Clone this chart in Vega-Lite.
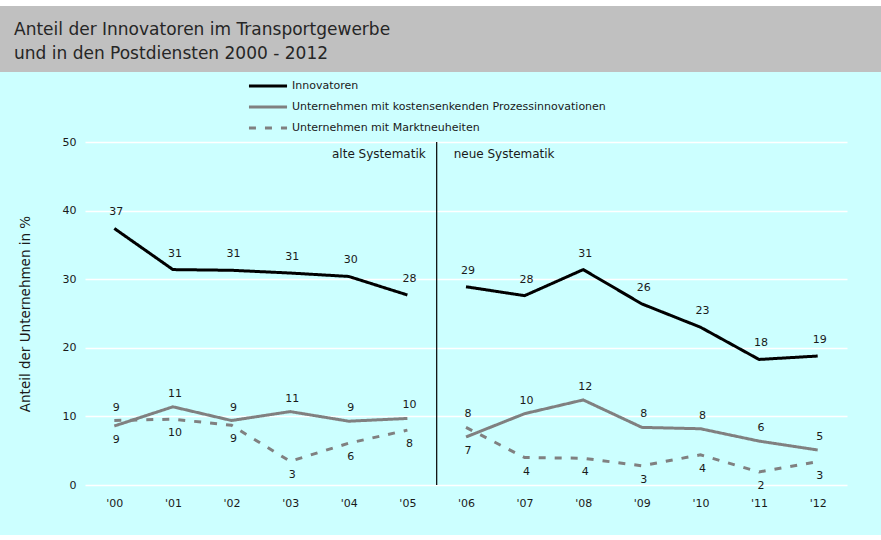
{
  "$schema": "https://vega.github.io/schema/vega-lite/v6.json",
  "background": "#ccffff",
  "padding": 0,
  "spacing": 0,
  "resolve": {"legend": {"color": "independent", "strokeDash": "independent"}},
  "config": {
    "view": {"stroke": null},
    "font": "DejaVu Sans",
    "concat": {"spacing": 0},
    "text": {"font": "DejaVu Sans", "color": "#1a1a1a"}
  },
  "vconcat": [
    {
      "width": 881,
      "height": 6,
      "view": {"fill": "#ffffff", "stroke": null},
      "data": {"values": []},
      "mark": "point",
      "encoding": {}
    },
    {
      "width": 881,
      "height": 66,
      "view": {"fill": "#c0c0c0", "stroke": null},
      "data": {"values": []},
      "mark": "point",
      "encoding": {},
      "title": {
        "text": ["Anteil der Innovatoren im Transportgewerbe", "und in den Postdiensten 2000 - 2012"],
        "anchor": "start",
        "frame": "group",
        "orient": "top",
        "offset": -74,
        "baseline": "bottom",
        "dx": 14,
        "fontSize": 17,
        "font": "DejaVu Sans",
        "fontWeight": "normal",
        "color": "#262626",
        "lineHeight": 24
      }
    },
    {
      "spacing": 0,
      "resolve": {"legend": {"color": "independent", "strokeDash": "independent"}},
      "hconcat": [
        {
          "width": 18,
          "height": 10,
          "data": {"values": []},
          "mark": "point",
          "encoding": {}
        },
        {
          "width": 762,
          "height": 343,
          "data": {
            "values": [
              {"year": 2000, "series": "Innovatoren", "value": 37.4, "period": "alt", "pos": "oben"},
              {"year": 2001, "series": "Innovatoren", "value": 31.4, "period": "alt", "pos": "oben"},
              {"year": 2002, "series": "Innovatoren", "value": 31.3, "period": "alt", "pos": "oben"},
              {"year": 2003, "series": "Innovatoren", "value": 30.9, "period": "alt", "pos": "oben"},
              {"year": 2004, "series": "Innovatoren", "value": 30.4, "period": "alt", "pos": "oben"},
              {"year": 2005, "series": "Innovatoren", "value": 27.7, "period": "alt", "pos": "oben"},
              {"year": 2006, "series": "Innovatoren", "value": 28.9, "period": "neu", "pos": "oben"},
              {"year": 2007, "series": "Innovatoren", "value": 27.6, "period": "neu", "pos": "oben"},
              {"year": 2008, "series": "Innovatoren", "value": 31.4, "period": "neu", "pos": "oben"},
              {"year": 2009, "series": "Innovatoren", "value": 26.4, "period": "neu", "pos": "oben"},
              {"year": 2010, "series": "Innovatoren", "value": 23.0, "period": "neu", "pos": "oben"},
              {"year": 2011, "series": "Innovatoren", "value": 18.3, "period": "neu", "pos": "oben"},
              {"year": 2012, "series": "Innovatoren", "value": 18.8, "period": "neu", "pos": "oben"},
              {"year": 2000, "series": "Unternehmen mit kostensenkenden Prozessinnovationen", "value": 8.6, "period": "alt", "pos": "unten"},
              {"year": 2001, "series": "Unternehmen mit kostensenkenden Prozessinnovationen", "value": 11.4, "period": "alt", "pos": "oben"},
              {"year": 2002, "series": "Unternehmen mit kostensenkenden Prozessinnovationen", "value": 9.4, "period": "alt", "pos": "oben"},
              {"year": 2003, "series": "Unternehmen mit kostensenkenden Prozessinnovationen", "value": 10.7, "period": "alt", "pos": "oben"},
              {"year": 2004, "series": "Unternehmen mit kostensenkenden Prozessinnovationen", "value": 9.3, "period": "alt", "pos": "oben"},
              {"year": 2005, "series": "Unternehmen mit kostensenkenden Prozessinnovationen", "value": 9.7, "period": "alt", "pos": "oben"},
              {"year": 2006, "series": "Unternehmen mit kostensenkenden Prozessinnovationen", "value": 7.0, "period": "neu", "pos": "unten"},
              {"year": 2007, "series": "Unternehmen mit kostensenkenden Prozessinnovationen", "value": 10.4, "period": "neu", "pos": "oben"},
              {"year": 2008, "series": "Unternehmen mit kostensenkenden Prozessinnovationen", "value": 12.4, "period": "neu", "pos": "oben"},
              {"year": 2009, "series": "Unternehmen mit kostensenkenden Prozessinnovationen", "value": 8.4, "period": "neu", "pos": "oben"},
              {"year": 2010, "series": "Unternehmen mit kostensenkenden Prozessinnovationen", "value": 8.2, "period": "neu", "pos": "oben"},
              {"year": 2011, "series": "Unternehmen mit kostensenkenden Prozessinnovationen", "value": 6.4, "period": "neu", "pos": "oben"},
              {"year": 2012, "series": "Unternehmen mit kostensenkenden Prozessinnovationen", "value": 5.1, "period": "neu", "pos": "oben"},
              {"year": 2000, "series": "Unternehmen mit Marktneuheiten", "value": 9.4, "period": "alt", "pos": "oben"},
              {"year": 2001, "series": "Unternehmen mit Marktneuheiten", "value": 9.6, "period": "alt", "pos": "unten"},
              {"year": 2002, "series": "Unternehmen mit Marktneuheiten", "value": 8.7, "period": "alt", "pos": "unten"},
              {"year": 2003, "series": "Unternehmen mit Marktneuheiten", "value": 3.45, "period": "alt", "pos": "unten"},
              {"year": 2004, "series": "Unternehmen mit Marktneuheiten", "value": 6.1, "period": "alt", "pos": "unten"},
              {"year": 2005, "series": "Unternehmen mit Marktneuheiten", "value": 8.0, "period": "alt", "pos": "unten"},
              {"year": 2006, "series": "Unternehmen mit Marktneuheiten", "value": 8.4, "period": "neu", "pos": "oben"},
              {"year": 2007, "series": "Unternehmen mit Marktneuheiten", "value": 4.0, "period": "neu", "pos": "unten"},
              {"year": 2008, "series": "Unternehmen mit Marktneuheiten", "value": 3.9, "period": "neu", "pos": "unten"},
              {"year": 2009, "series": "Unternehmen mit Marktneuheiten", "value": 2.8, "period": "neu", "pos": "unten"},
              {"year": 2010, "series": "Unternehmen mit Marktneuheiten", "value": 4.4, "period": "neu", "pos": "unten"},
              {"year": 2011, "series": "Unternehmen mit Marktneuheiten", "value": 1.9, "period": "neu", "pos": "unten"},
              {"year": 2012, "series": "Unternehmen mit Marktneuheiten", "value": 3.4, "period": "neu", "pos": "unten"}
            ]
          },
          "layer": [
            {
              "data": {"values": [{"year": 2005.5, "lo": 0, "hi": 50}]},
              "mark": {"type": "rule", "color": "#000000", "strokeWidth": 1.2},
              "encoding": {
                "x": {"field": "year", "type": "quantitative"},
                "y": {"field": "lo", "type": "quantitative"},
                "y2": {"field": "hi"}
              }
            },
            {
              "data": {"values": [{"year": 2005.5, "y": 50, "label": "alte Systematik"}]},
              "mark": {"type": "text", "align": "right", "baseline": "middle", "dx": -11, "dy": 12, "fontSize": 12},
              "encoding": {
                "x": {"field": "year", "type": "quantitative"},
                "y": {"field": "y", "type": "quantitative"},
                "text": {"field": "label"}
              }
            },
            {
              "data": {"values": [{"year": 2005.5, "y": 50, "label": "neue Systematik"}]},
              "mark": {"type": "text", "align": "left", "baseline": "middle", "dx": 17, "dy": 12, "fontSize": 12},
              "encoding": {
                "x": {"field": "year", "type": "quantitative"},
                "y": {"field": "y", "type": "quantitative"},
                "text": {"field": "label"}
              }
            },
            {
              "mark": {"type": "line", "strokeWidth": 3},
              "encoding": {
                "x": {
                  "field": "year", "type": "quantitative",
                  "scale": {"domain": [1999.5, 2012.5], "nice": false, "zero": false},
                  "axis": {
                    "title": null, "grid": false, "domain": false, "ticks": false,
                    "values": [2000, 2001, 2002, 2003, 2004, 2005, 2006, 2007, 2008, 2009, 2010, 2011, 2012],
                    "format": "d",
                    "labelExpr": "\"'\" + slice(datum.label, 2)",
                    "labelPadding": 12, "labelFontSize": 11, "labelColor": "#1a1a1a", "labelFont": "DejaVu Sans"
                  }
                },
                "y": {
                  "field": "value", "type": "quantitative",
                  "scale": {"domain": [0, 50], "nice": false},
                  "axis": {
                    "title": "Anteil der Unternehmen in %",
                    "titleFontSize": 13.5, "titleFontWeight": "normal", "titleColor": "#1a1a1a", "titleFont": "DejaVu Sans",
                    "titlePadding": 30,
                    "values": [0, 10, 20, 30, 40, 50],
                    "grid": true, "gridColor": "#ffffff", "gridWidth": 1.5,
                    "domain": false, "ticks": false,
                    "labelPadding": 9, "labelFontSize": 11, "labelColor": "#1a1a1a", "labelFont": "DejaVu Sans"
                  }
                },
                "color": {
                  "field": "series", "type": "nominal",
                  "scale": {
                    "domain": ["Innovatoren", "Unternehmen mit kostensenkenden Prozessinnovationen", "Unternehmen mit Marktneuheiten"],
                    "range": ["#000000", "#808080", "#808080"]
                  },
                  "legend": {
                    "orient": "none", "legendX": 156, "legendY": -70, "title": null,
                    "symbolType": "stroke", "symbolSize": 1450, "symbolStrokeWidth": 3,
                    "clipHeight": 16, "rowPadding": 5, "padding": 6,
                    "labelFontSize": 11, "labelOffset": 3, "labelFont": "DejaVu Sans", "labelColor": "#1a1a1a",
                    "labelLimit": 600
                  }
                },
                "strokeDash": {
                  "field": "series", "type": "nominal",
                  "scale": {
                    "domain": ["Innovatoren", "Unternehmen mit kostensenkenden Prozessinnovationen", "Unternehmen mit Marktneuheiten"],
                    "range": [[1, 0], [1, 0], [7, 9]]
                  },
                  "legend": {
                    "orient": "none", "legendX": 156, "legendY": -70, "title": null,
                    "symbolType": "stroke", "symbolSize": 1450, "symbolStrokeWidth": 3,
                    "clipHeight": 16, "rowPadding": 5, "padding": 6,
                    "labelFontSize": 11, "labelOffset": 3, "labelFont": "DejaVu Sans", "labelColor": "#1a1a1a",
                    "labelLimit": 600
                  }
                },
                "detail": {"field": "period"}
              }
            },
            {
              "transform": [{"filter": "datum.series === 'Innovatoren'"}],
              "mark": {"type": "text", "fontSize": 11, "dy": -16, "dx": 2},
              "encoding": {
                "x": {"field": "year", "type": "quantitative"},
                "y": {"field": "value", "type": "quantitative"},
                "text": {"field": "value", "type": "quantitative", "format": ".0f"}
              }
            },
            {
              "transform": [{"filter": "datum.series !== 'Innovatoren' && datum.pos === 'oben'"}],
              "mark": {"type": "text", "fontSize": 11, "dy": -13, "dx": 2},
              "encoding": {
                "x": {"field": "year", "type": "quantitative"},
                "y": {"field": "value", "type": "quantitative"},
                "text": {"field": "value", "type": "quantitative", "format": ".0f"}
              }
            },
            {
              "transform": [{"filter": "datum.series !== 'Innovatoren' && datum.pos === 'unten'"}],
              "mark": {"type": "text", "fontSize": 11, "dy": 14, "dx": 2},
              "encoding": {
                "x": {"field": "year", "type": "quantitative"},
                "y": {"field": "value", "type": "quantitative"},
                "text": {"field": "value", "type": "quantitative", "format": ".0f"}
              }
            }
          ]
        }
      ]
    },
    {
      "width": 881,
      "height": 27,
      "data": {"values": []},
      "mark": "point",
      "encoding": {}
    }
  ]
}
